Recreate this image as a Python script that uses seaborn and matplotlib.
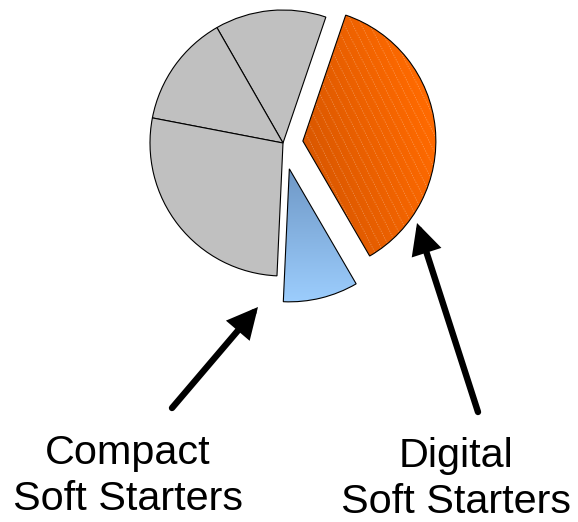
import numpy as np
import matplotlib
matplotlib.use("Agg")
import matplotlib.pyplot as plt
import seaborn as sns
from matplotlib.colors import LinearSegmentedColormap

# Market share split (percent of the whole), drawn counter-clockwise
segments = ["Segment A", "Segment B", "Segment C",
            "Compact Soft Starters", "Digital Soft Starters"]
shares = [13.5, 13.7, 27.3, 9.1, 36.4]
callouts = ["Compact\nSoft Starters", "Digital\nSoft Starters"]

sns.set_theme(style="white")
plt.rcParams["font.family"] = ["Liberation Sans", "DejaVu Sans"]

W, H = 578, 522
fig = plt.figure(figsize=(W / 100, H / 100), dpi=100)
ax = fig.add_axes([0, 0, 1, 1])

grey = "#c0c0c0"
R = 133
explode = [0, 0, 0, 0.2 * R, 0.15 * R]
wedges, _ = ax.pie(
    shares, explode=explode, startangle=71.2, counterclock=True,
    radius=R, center=(283, 379),
    colors=[grey, grey, grey, "none", "none"],
    wedgeprops=dict(edgecolor="black", linewidth=0.8),
)
ax.set_xlim(0, W)
ax.set_ylim(0, H)
ax.set_aspect("equal")
ax.axis("off")

# Blue wedge: vertical gradient, darker at the tip
blue = wedges[3]
blue.set_zorder(5)
(bcx, bcy), br = blue.center, blue.r
blue_cmap = LinearSegmentedColormap.from_list("blue", ["#9ccdfd", "#6f98c6"])
grad_v = np.linspace(0, 1, 256).reshape(-1, 1)
im = ax.imshow(grad_v, cmap=blue_cmap, origin="lower", aspect="auto",
               extent=[bcx - br, bcx + br, bcy - br, bcy], zorder=3,
               interpolation="bilinear")
im.set_clip_path(blue)

# Orange wedge: diagonal gradient plus fine light stripes
orange = wedges[4]
orange.set_zorder(5)
(ocx, ocy), orr = orange.center, orange.r
orange_cmap = LinearSegmentedColormap.from_list("orange", ["#d05300", "#ff6a00"])
gx, gy = np.meshgrid(np.linspace(0, 1, 200), np.linspace(0, 1, 200))
grad_d = np.clip(0.8 * gx + 0.4 * gy, 0, 1)
im2 = ax.imshow(grad_d, cmap=orange_cmap, origin="lower", aspect="auto",
                extent=[ocx, ocx + orr, ocy - orr, ocy + orr], zorder=3,
                interpolation="bilinear")
im2.set_clip_path(orange)

ang = np.deg2rad(-63)
d = np.array([np.cos(ang), np.sin(ang)])
n = np.array([-d[1], d[0]])
for k in np.arange(-40, 40):
    p0 = np.array([ocx + orr / 2, ocy]) + n * k * 7.6
    pts = np.array([p0 - d * 400, p0 + d * 400])
    ln, = ax.plot(pts[:, 0], pts[:, 1], color="white", alpha=0.3,
                  lw=0.6, ls=(0, (1.5, 1.5)), zorder=4)
    ln.set_clip_path(orange)

# Callout arrows and labels
arrow_kw = dict(arrowstyle="-|>,head_length=1.0,head_width=0.5",
                color="black", lw=4.6, mutation_scale=15,
                shrinkA=0, shrinkB=0, joinstyle="miter")
ax.annotate("", xy=(258, 215), xytext=(172, 114), arrowprops=arrow_kw)
ax.annotate("", xy=(417, 299), xytext=(478, 110), arrowprops=arrow_kw)

ax.text(128, 88, callouts[0], ha="center", va="top", fontsize=29.8,
        color="black", linespacing=1.27)
ax.text(456, 85, callouts[1], ha="center", va="top", fontsize=29.8,
        color="black", linespacing=1.27)

fig.savefig("out.png", dpi=100)
